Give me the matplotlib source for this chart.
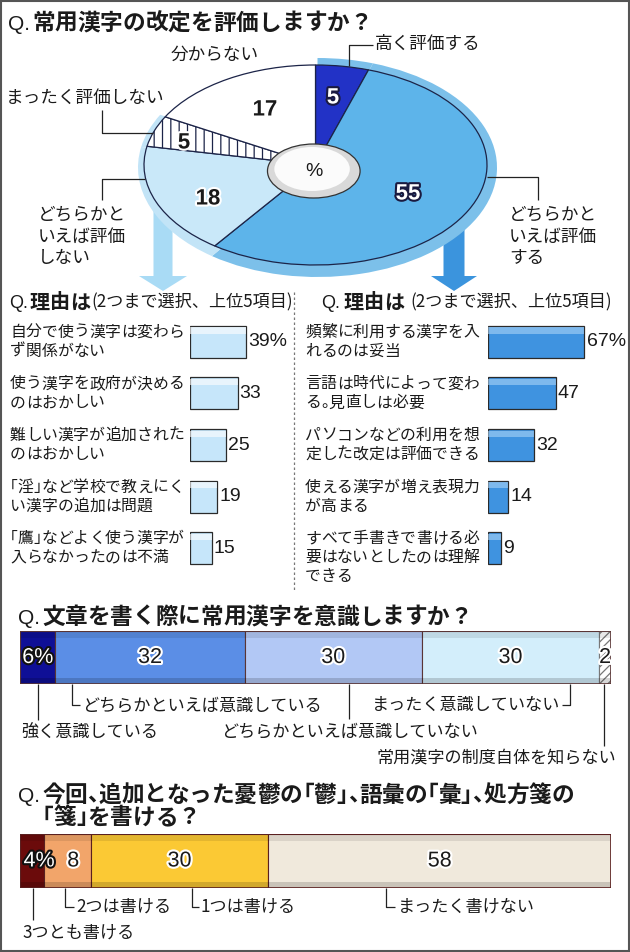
import matplotlib
matplotlib.use('Agg')
import matplotlib.pyplot as plt
import matplotlib.patheffects as pe
from matplotlib.patches import FancyArrow, Rectangle, Circle
import numpy as np

# ── Config ────────────────────────────────────────────────────────────────────
W, H, DPI = 630, 952, 100
JP  = ['Noto Sans CJK JP', 'DejaVu Sans']
LAT = ['Liberation Sans', 'Noto Sans CJK JP', 'DejaVu Sans']
plt.rcParams['font.family'] = JP
plt.rcParams['hatch.linewidth'] = 0.9
TXT = '#1a1a1a'

# ── Data ──────────────────────────────────────────────────────────────────────
TITLE1 = '常用漢字の改定を評価しますか？'
PIE_LABELS = ['高く評価する', 'どちらかといえば評価する', 'どちらかといえば評価しない',
              'まったく評価しない', '分からない']
PIE_VALUES = [5, 55, 18, 5, 17]
PIE_COLORS = ['#2232c6', '#5db4ea', '#c9e8f9', 'white', 'white']
HALO_COLORS = ['#7cc0ea', '#7cc0ea', '#c2e4f7', '#c2e4f7', 'none']

REASON_HEAD = '理由は'
REASON_NOTE = '(2つまで選択、上位5項目)'
NEG_LABELS = [['自分で使う漢字は変わら', 'ず関係がない'],
              ['使う漢字を政府が決める', 'のはおかしい'],
              ['難しい漢字が追加された', 'のはおかしい'],
              ['「淫」など学校で教えにく', 'い漢字の追加は問題'],
              ['「鷹」などよく使う漢字が', '入らなかったのは不満']]
NEG_VALUES = [39, 33, 25, 19, 15]
POS_LABELS = [['頻繁に利用する漢字を入', 'れるのは妥当'],
              ['言語は時代によって変わ', 'る。見直しは必要'],
              ['パソコンなどの利用を想', '定した改定は評価できる'],
              ['使える漢字が増え表現力', 'が高まる'],
              ['すべて手書きで書ける必', '要はないとしたのは理解', 'できる']]
POS_VALUES = [67, 47, 32, 14, 9]

TITLE3 = '文章を書く際に常用漢字を意識しますか？'
AWARE_LABELS = ['強く意識している', 'どちらかといえば意識している',
                'どちらかといえば意識していない', 'まったく意識していない',
                '常用漢字の制度自体を知らない']
AWARE_VALUES = [6, 32, 30, 30, 2]
AWARE_COLORS = ['#0f0f96', '#5b8ee6', '#b2c8f5', '#d3eefb', 'white']

TITLE4A = '今回、追加となった憂鬱の「鬱」、語彙の「彙」、処方箋の'
TITLE4B = '「箋」を書ける？'
WRITE_LABELS = ['3つとも書ける', '2つは書ける', '1つは書ける', 'まったく書けない']
WRITE_VALUES = [4, 8, 30, 58]
WRITE_COLORS = ['#6b0b0b', '#f2a56a', '#fbc934', '#f0e9dc']

# ── Figure & helpers ──────────────────────────────────────────────────────────
fig = plt.figure(figsize=(W / DPI, H / DPI), dpi=DPI)
fig.patch.set_facecolor('white')

def px_axes(x0, y0, x1, y1, z=1):
    ax = fig.add_axes([x0 / W, 1 - y1 / H, (x1 - x0) / W, (y1 - y0) / H], zorder=z)
    ax.patch.set_alpha(0)
    return ax

def canvas_axes(z):
    ax = px_axes(0, 0, W, H, z)
    ax.set_xlim(0, W)
    ax.set_ylim(H, 0)
    ax.axis('off')
    return ax

def oval_axes(cx, cy, a, b, z):
    # axes where the unit circle maps to an ellipse of semi-axes a, b (px)
    ax = px_axes(cx - 1.2 * a, cy - 1.2 * b, cx + 1.2 * a, cy + 1.2 * b, z)
    return ax

def finish_oval(ax):
    ax.set_xlim(-1.2, 1.2)
    ax.set_ylim(-1.2, 1.2)
    ax.set_aspect('auto')
    ax.axis('off')

ax_bg  = canvas_axes(0)
ax_top = canvas_axes(5)

HALF = '、。「」'
def jp_line(ax, x, y, s, size, **kw):
    # draw CJK text char by char so that punctuation takes half an em
    em = size * DPI / 72
    for ch in s:
        xx = x - em / 2 if ch == '「' else x
        ax.text(xx, y, ch, fontsize=size, ha='left', va='center', **kw)
        x += em / 2 if ch in HALF else em

def q_title(y, x_q, x_t, text, size=16.3):
    ax_top.text(x_q, y + 1, 'Q.', family=LAT, fontsize=15, ha='left', va='center', color=TXT)
    jp_line(ax_top, x_t, y, text, size, fontweight='bold', color=TXT)

def leader(pts):
    xs, ys = zip(*pts)
    ax_top.plot(xs, ys, color='#222', lw=0.9, solid_capstyle='butt')

def label(x, y, s, ha='left', size=12.7):
    ax_top.text(x, y, s, fontsize=size, ha=ha, va='center', color=TXT)

# ── Frame ─────────────────────────────────────────────────────────────────────
ax_top.add_patch(Rectangle((1, 1), W - 2, H - 2, fill=False, edgecolor='#555', lw=1.5))

# ── Pie ───────────────────────────────────────────────────────────────────────
q_title(23, 8, 32, TITLE1)

# rim behind the pie, shaded like the slices in front of it
ax_halo = oval_axes(317.5, 167.5, 179.5, 109.5, z=1)
ax_halo.pie(PIE_VALUES, colors=HALO_COLORS, startangle=90, counterclock=False,
            wedgeprops=dict(linewidth=0))
finish_oval(ax_halo)

ax_pie = oval_axes(315.5, 165, 171.5, 100, z=2)
wedges, _ = ax_pie.pie(PIE_VALUES, colors=PIE_COLORS, startangle=90, counterclock=False,
                       wedgeprops=dict(edgecolor='#1c2448', linewidth=0.9))
wedges[3].set_hatch('||')
ax_pie.add_patch(Circle((-0.01, -0.06), 0.27, facecolor='#d9d9d9', edgecolor='#333', lw=0.9))
ax_pie.add_patch(Circle((-0.02, -0.04), 0.22, facecolor='#fbfbfb', lw=0))
finish_oval(ax_pie)

# arrows out of the pie
ax_bg.add_patch(FancyArrow(163, 200, 0, 91, width=19, head_width=48, head_length=15,
                           length_includes_head=True, color='#a9dbf5', lw=0))
ax_bg.add_patch(FancyArrow(454, 200, 0, 91, width=21, head_width=46, head_length=15,
                           length_includes_head=True, color='#3b94dd', lw=0))

# slice values
dark = [pe.withStroke(linewidth=3, foreground='#1a1a40')]
light = [pe.withStroke(linewidth=3, foreground='white')]
pie_txt = [(333, 98, 'white', dark), (408, 194, 'white', dark), (208, 199, TXT, light),
           (184, 143, TXT, light), (265, 110, TXT, light)]
for (x, y, c, eff), v in zip(pie_txt, PIE_VALUES):
    ax_top.text(x, y, str(v), family=LAT, fontsize=16, fontweight='bold', color=c,
                ha='center', va='center', path_effects=eff)
ax_top.text(314, 172, '%', family=LAT, fontsize=14, ha='center', va='center', color=TXT)

# pie labels
leader([(349, 66), (349, 45), (373, 45)])
label(375, 44, PIE_LABELS[0])
label(171, 55, PIE_LABELS[4])
leader([(102, 110), (102, 133), (153, 133)])
label(6, 98, PIE_LABELS[3])
leader([(145, 179), (102, 179), (102, 200)])
for k, s in enumerate(['どちらかと', 'いえば評価', 'しない']):
    label(38, 215 + k * 21.5, s)
leader([(487, 177), (538, 177), (538, 200)])
for k, s in enumerate(['どちらかと', 'いえば評価', 'する']):
    label(509, 215 + k * 21.5, s)

# ── Reasons ───────────────────────────────────────────────────────────────────
ax_top.plot([294, 294], [292, 590], color='#777', lw=0.9, ls=(0, (2, 2)))

def reason_block(x_q, x_head, x_note, x_text, x_bar, labels, values, color, hl):
    ax_top.text(x_q, 303, 'Q.', family=LAT, fontsize=13, ha='left', va='center', color=TXT)
    jp_line(ax_top, x_head, 302, REASON_HEAD, 14.5, fontweight='bold', color=TXT)
    ax_top.text(x_note, 302, REASON_NOTE, fontsize=12.3, ha='left', va='center', color=TXT)
    rows = np.arange(len(values))
    ax = px_axes(x_bar, 316, x_bar + 100, 574, z=2)
    ax.set_xlim(0, 100 / 1.44)
    ax.set_ylim(len(values) - 0.5, -0.5)
    ax.barh(rows, values, height=0.62, color=color, edgecolor='#2a2a2a', lw=0.9)
    ax.barh(rows - 0.22, values, height=0.12, color=hl, alpha=0.6, lw=0)
    for i, v in enumerate(values):
        ax.text(v + 1.5, i, f'{v}%' if i == 0 else str(v), family=LAT, fontsize=14,
                ha='left', va='center', color=TXT, clip_on=False)
    ax.axis('off')
    for i, lines in enumerate(labels):
        yc = 316 + 51.6 * (i + 0.5)
        for k, s in enumerate(lines):
            jp_line(ax_top, x_text, yc - 9.5 + 19 * k, s, 11.4, color=TXT)

reason_block(9, 30, 91, 10, 190, NEG_LABELS, NEG_VALUES, '#c6e6fa', '#ffffff')
reason_block(321, 344, 410, 305, 488, POS_LABELS, POS_VALUES, '#3f93e0', '#a9d3f6')

# ── Stacked bars ──────────────────────────────────────────────────────────────
def stacked(y0, y1, values, colors, edge, first_left=False):
    ax = px_axes(20, y0, 611, y1, z=2)
    ax.set_xlim(0, 100)
    ax.set_ylim(0, 1)
    left = np.concatenate([[0], np.cumsum(values)[:-1]])
    bars = ax.barh(0.5, values, left=left, height=1, color=colors, edgecolor=edge, lw=0.8)
    ax.barh(0.93, values, left=left, height=0.12, color='#000', alpha=0.09, lw=0)
    ax.barh(0.06, values, left=left, height=0.12, color='#000', alpha=0.16, lw=0)
    ax.barh(0.5, sum(values), height=1, fill=False, edgecolor=edge, lw=1.2)
    for i, (v, l) in enumerate(zip(values, left)):
        s = f'{v}%' if i == 0 else str(v)
        if i == 0:
            c, eff = 'white', [pe.withStroke(linewidth=3, foreground='#111')]
        else:
            c, eff = TXT, [pe.withStroke(linewidth=3, foreground='white')]
        x, ha = l + v / 2, 'center'
        if first_left and i == 0:
            x, ha = 0.6, 'left'
        elif first_left and i == 1:
            x += 1
        ax.text(x, 0.5, s, family=LAT, fontsize=15.5, color=c, ha=ha, va='center',
                path_effects=eff, clip_on=False)
    ax.axis('off')
    return bars

q_title(617, 18, 42, TITLE3)
bars = stacked(631, 684, AWARE_VALUES, AWARE_COLORS, '#5a3535')
bars[4].set_hatch('////')
bars[4].set_edgecolor('#777')

S = 12.3
leader([(38, 684), (38, 720)])
label(21, 733, AWARE_LABELS[0], size=S)
leader([(72, 684), (72, 705), (80, 705)])
label(82, 705, AWARE_LABELS[1], size=S)
leader([(349, 684), (349, 719)])
label(221, 732, AWARE_LABELS[2], size=S)
leader([(570, 684), (570, 705), (562, 705)])
label(560, 705, AWARE_LABELS[3], ha='right', size=S)
leader([(604, 684), (604, 746)])
label(616, 758, AWARE_LABELS[4], ha='right', size=S)

q_title(795, 18, 42, TITLE4A)
jp_line(ax_top, 42, 818, TITLE4B, 16.3, fontweight='bold', color=TXT)
stacked(834, 888, WRITE_VALUES, WRITE_COLORS, '#5a2020', first_left=True)

leader([(33, 888), (33, 920)])
label(22, 933, WRITE_LABELS[0], size=S)
leader([(65, 888), (65, 907), (74, 907)])
label(76, 907, WRITE_LABELS[1], size=S)
leader([(192, 888), (192, 907), (199, 907)])
label(201, 907, WRITE_LABELS[2], size=S)
leader([(386, 888), (386, 907), (395, 907)])
label(398, 907, WRITE_LABELS[3], size=S)

fig.savefig('out.png', dpi=DPI, facecolor='white')
plt.close(fig)
